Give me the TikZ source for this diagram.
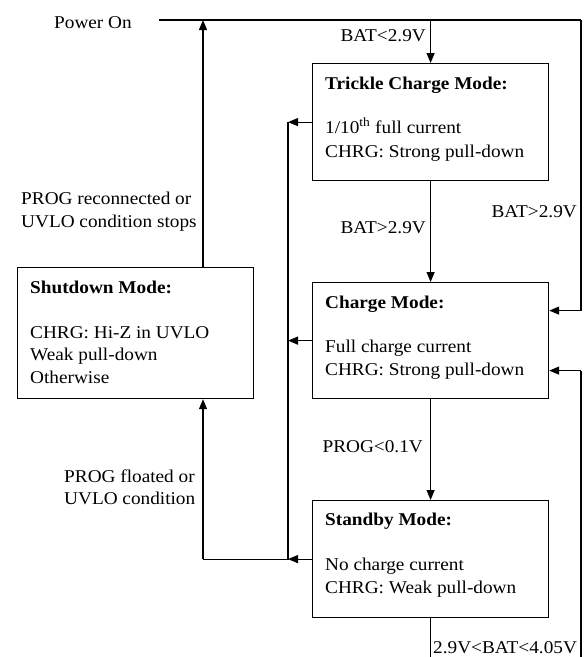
\documentclass[tikz,border=0pt]{standalone}
\usepackage{fontspec}
\setmainfont{Liberation Serif}[FakeStretch=1.07]
\usetikzlibrary{arrows.meta}
\begin{document}
\begin{tikzpicture}[x=1pt,y=-1pt,
  box/.style={draw,line width=1.2pt,minimum width=236pt,inner sep=0pt,anchor=north west},
  txt/.style={anchor=base west,inner sep=0pt,font=\fontsize{18}{22}\selectfont},
  wire/.style={line width=1.2pt},
  arr/.style={line width=1.2pt,-{Triangle[length=10pt,width=8pt]}}
]
\useasboundingbox (0,0) rectangle (585,657);
\fill[white] (0,0) rectangle (585,657);

% boxes
\node[box,minimum height=117pt] (trickle) at (312,63) {};
\node[box,minimum height=116pt] (charge) at (312,282) {};
\node[box,minimum height=117pt] (standby) at (312,500) {};
\node[box,minimum height=131pt] (shutdown) at (17,267) {};

% box texts
\node[txt] (t1) at (325,89) {\textbf{Trickle Charge Mode:}};
\node[txt] (t2) at (325,133) {1/10\textsuperscript{th} full current};
\node[txt] (t3) at (325,157) {CHRG: Strong pull-down};
\node[txt] (c1) at (325,308) {\textbf{Charge Mode:}};
\node[txt] (c2) at (325,352) {Full charge current};
\node[txt] (c3) at (325,375) {CHRG: Strong pull-down};
\node[txt] (s1) at (325,525) {\textbf{Standby Mode:}};
\node[txt] (s2) at (325,570) {No charge current};
\node[txt] (s3) at (325,593) {CHRG: Weak pull-down};
\node[txt] (d1) at (30,293) {\textbf{Shutdown Mode:}};
\node[txt] (d2) at (30,338) {CHRG: Hi-Z in UVLO};
\node[txt] (d3) at (30,360.5) {Weak pull-down};
\node[txt] (d4) at (30,383) {Otherwise};

% labels
\node[txt] (power) at (54,28) {Power On};
\node[txt,anchor=base east] (l1) at (426,41) {BAT<2.9V};
\node[txt,anchor=base east] (l2) at (426,233) {BAT>2.9V};
\node[txt,anchor=base east] (l3) at (577,217) {BAT>2.9V};
\node[txt,anchor=base east] (l4) at (423,452) {PROG<0.1V};
\node[txt] (l5) at (433,653) {2.9V<BAT<4.05V};
\node[txt] (l6) at (21,204) {PROG reconnected or};
\node[txt] (l7) at (21,227) {UVLO condition stops};
\node[txt] (l8) at (64,482) {PROG floated or};
\node[txt] (l9) at (64,504) {UVLO condition};

% coordinates
\coordinate (topL) at (159,20);
\coordinate (topR) at (581,20);
\coordinate (topM) at (trickle.north |- topL);
\coordinate (upTip) at (203,20);
\coordinate (busTop) at (288,0 |- trickle.west);
\coordinate (busMid) at (288,0 |- charge.west);
\coordinate (busBot) at (288,0 |- standby.west);
\coordinate (shutIn) at (203,0 |- shutdown.south);
\coordinate (shutOut) at (203,0 |- shutdown.north);
\coordinate (cornerBL) at (203,0 |- standby.west);
\coordinate (chgIn1) at ([yshift=30pt]charge.east);
\coordinate (chgIn2) at ([yshift=-30pt]charge.east);
\coordinate (rightIn1) at (581,0 |- chgIn1);
\coordinate (rightIn2) at (581,0 |- chgIn2);
\coordinate (botStandby) at (standby.south |- 0,660);
\coordinate (botRight) at (581,660);

% connectors
\draw[wire] (topL) -- (topR);
\draw[arr] (topM) -- (trickle.north);
\draw[arr] (trickle.south) -- (charge.north);
\draw[arr] (charge.south) -- (standby.north);
\draw[wire] (standby.south) -- (botStandby);
\draw[wire] (topR) -- (rightIn1);
\draw[arr] (rightIn1) -- (chgIn1);
\draw[wire] (botRight) -- (rightIn2);
\draw[arr] (rightIn2) -- (chgIn2);
\draw[arr] (trickle.west) -- (busTop);
\draw[arr] (charge.west) -- (busMid);
\draw[arr] (standby.west) -- (busBot);
\draw[wire] (busTop) -- (busBot) -- (cornerBL);
\draw[arr] (cornerBL) -- (shutIn);
\draw[arr] (shutOut) -- (upTip);
\end{tikzpicture}
\end{document}
